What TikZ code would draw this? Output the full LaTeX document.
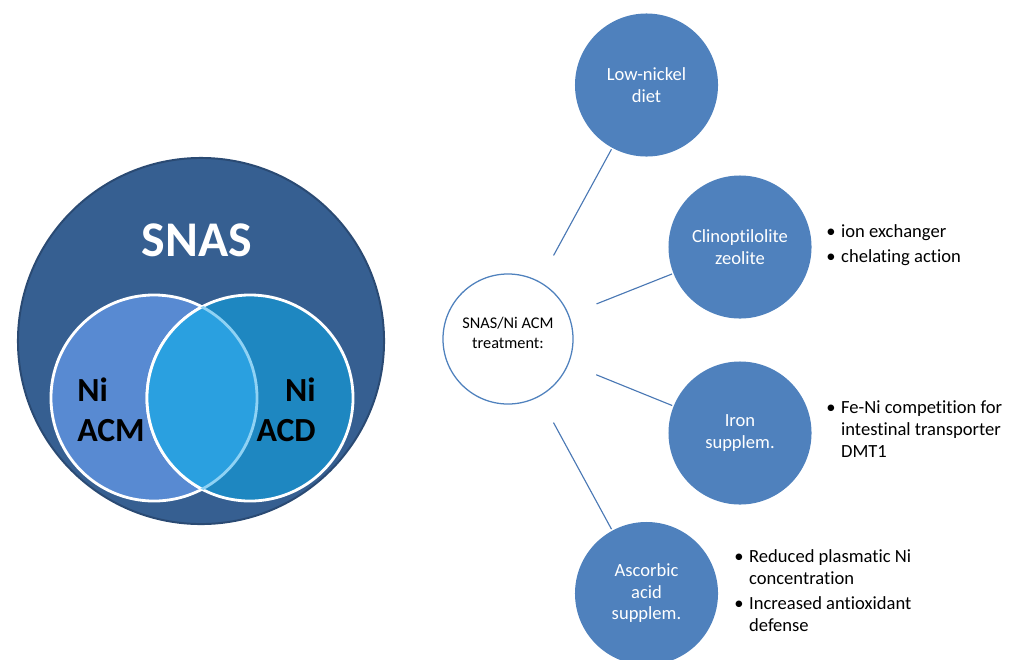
\documentclass[tikz,border=0pt]{standalone}
\usepackage{fontspec}
\setmainfont[Ligatures=NoCommon]{Carlito}
\usetikzlibrary{shapes,arrows}
\definecolor{snasblue}{HTML}{365F91}
\definecolor{snasedge}{HTML}{2A4A73}
\definecolor{acmblue}{HTML}{588AD2}
\definecolor{acdblue}{HTML}{1E87C1}
\definecolor{bothblue}{HTML}{2AA0E0}
\definecolor{bothedge}{HTML}{8FD2F4}
\definecolor{treatblue}{HTML}{4F81BD}
\definecolor{spokeblue}{HTML}{4A78B4}
\tikzstyle{outer} = [circle, draw=snasedge, line width=1.4pt, fill=snasblue, 
minimum size=9.15cm, inner sep=0pt]
\tikzstyle{venn} = [circle, draw=white, line width=2pt, minimum size=5.15cm, inner sep=0pt]
\tikzstyle{vennlabel} = [font=\fontsize{24}{28.5}\selectfont\bfseries, inner sep=0pt]
\tikzstyle{hub} = [circle, draw=treatblue, line width=0.9pt, fill=white, 
minimum size=3.25cm, inner sep=0pt, align=center, font=\fontsize{11.6}{14.2}\selectfont]
\tikzstyle{remedy} = [circle, fill=treatblue, minimum size=3.575cm, inner sep=0pt, 
align=center, text=white, font=\fontsize{13.2}{15.3}\selectfont]
\tikzstyle{note} = [inner sep=0pt, anchor=west, font=\fontsize{13.2}{15.6}\selectfont]
\tikzstyle{line} = [draw=spokeblue, line width=0.8pt, shorten <=21pt, shorten >=1pt]

\begin{document}
\begin{tikzpicture}[x=0.025cm, y=-0.025cm]
	\useasboundingbox (0,0) rectangle (1016,659);
	% Venn diagram
	\node [outer] (snas) at (201,341) {};
	\node [venn, fill=acmblue] (acm) at (154,398) {};
	\node [venn, fill=acdblue] (acd) at (250,398) {};
	\begin{scope}
		\clip (acm.center) circle[radius=2.575cm];
		\fill [bothblue] (acd.center) circle[radius=2.575cm];
		\draw [white, line width=2pt] (acd.center) circle[radius=2.575cm];
	\end{scope}
	\begin{scope}
		\clip (acd.center) circle[radius=2.575cm];
		\draw [bothedge, line width=2pt] (acm.center) circle[radius=2.575cm];
	\end{scope}
	\node [font=\fontsize{35.5}{40}\selectfont\bfseries, text=white, inner sep=0pt] (snaslabel) at (197,240) {SNAS};
	\node [vennlabel, align=left, anchor=west] (acmlabel) at (77,410) {Ni\\ACM};
	\node [vennlabel, align=right, anchor=east] (acdlabel) at (316,410) {Ni\\ACD};
	
	% treatments
	\node [hub] (treat) at (508,339) {SNAS/Ni ACM\\treatment:\\[-6pt]};
	\node [remedy] (lowni) at (646.5,85) {Low-nickel\\diet};
	\node [remedy] (zeolite) at (740,247) {Clinoptilolite\\zeolite};
	\node [remedy] (iron) at (740,433) {Iron\\supplem.};
	\node [remedy] (ascorbic) at (646.5,593.5) {Ascorbic\\acid\\supplem.};
	\path [line] (treat) -- (lowni);
	\path [line] (treat) -- (zeolite);
	\path [line] (treat) -- (iron);
	\path [line] (treat) -- (ascorbic);
	
	\node [note] (zeonotes) at (826,245.5) {\begin{tabular}{@{}l@{\hspace{4pt}}l@{}}
		\textbullet & ion exchanger\\[2.2pt]
		\textbullet & chelating action
	\end{tabular}};
	\node [note] (ironnotes) at (826,431) {\begin{tabular}{@{}l@{\hspace{4pt}}l@{}}
		\textbullet & Fe-Ni competition for\\
		& intestinal transporter\\
		& DMT1
	\end{tabular}};
	\node [note] (ascnotes) at (734,593) {\begin{tabular}{@{}l@{\hspace{4pt}}l@{}}
		\textbullet & Reduced plasmatic Ni\\
		& concentration\\[2.2pt]
		\textbullet & Increased antioxidant\\
		& defense
	\end{tabular}};
\end{tikzpicture}
\end{document}
